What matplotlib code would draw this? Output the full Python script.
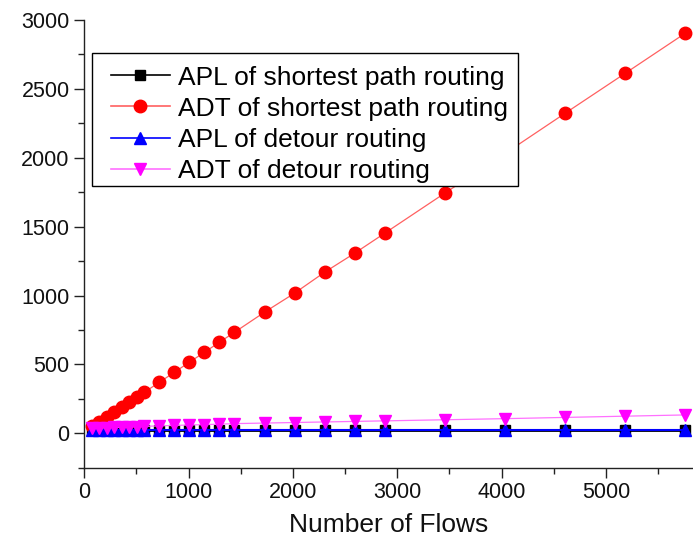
import matplotlib
matplotlib.use("Agg")
import matplotlib.pyplot as plt
from matplotlib.patches import Rectangle

plt.rcParams['font.family'] = ['Liberation Sans', 'DejaVu Sans']

flows = [72, 144, 216, 288, 360, 432, 504, 576, 720, 864, 1008, 1152, 1296, 1440,
         1728, 2016, 2304, 2592, 2880, 3456, 4032, 4608, 5184, 5760]
apl_shortest = [25, 25, 25, 25, 25, 25, 25, 25, 25, 25, 25, 25, 25, 25,
                25, 25, 25, 25, 25, 25, 25, 25, 25, 25]
adt_shortest = [50, 85, 120, 155, 192, 228, 262, 298, 370, 443, 516, 588, 661, 733,
                879, 1017, 1169, 1307, 1452, 1743, 2030, 2322, 2612, 2903]
apl_detour = [26, 26, 26, 26, 26, 26, 26, 26, 26, 26, 26, 26, 26, 26,
              26, 26, 26, 26, 26, 26, 26, 26, 26, 26]
adt_detour = [36, 38, 40, 42, 44, 46, 48, 50, 54, 57, 60, 63, 66, 70,
              74, 78, 82, 86, 90, 98, 106, 115, 124, 133]
labels = ["APL of shortest path routing", "ADT of shortest path routing",
          "APL of detour routing", "ADT of detour routing"]

W, H = 693, 541
fig = plt.figure(figsize=(W / 100, H / 100), dpi=100)
ax = fig.add_axes([84.3 / W, 1 - 467.7 / H, 1 - 84.3 / W, (467.7 - 20) / H])

ax.plot(flows, apl_shortest, color='black', lw=2, marker='s', ms=7.5, mec='black', label=labels[0])
ax.plot(flows, adt_shortest, color='#ff6060', lw=0.9, marker='o', ms=9, mfc='red', mec='red', label=labels[1])
ax.plot(flows, apl_detour, color='blue', lw=1.5, marker='^', ms=8.5, mfc='blue', mec='blue', label=labels[2])
ax.plot(flows, adt_detour, color='#ff70ff', lw=0.9, marker='v', ms=9, mfc='magenta', mec='magenta', label=labels[3])

ax.set_xlim(0, (W - 84.3) / 104.3 * 1000)
ax.set_ylim(-250, 3000)
ax.set_xticks([0, 1000, 2000, 3000, 4000, 5000])
ax.set_xticks([500, 1500, 2500, 3500, 4500, 5500], minor=True)
ax.set_yticks([0, 500, 1000, 1500, 2000, 2500, 3000])
ax.set_yticks([-250, 250, 750, 1250, 1750, 2250, 2750], minor=True)

for s in ['top', 'right']:
    ax.spines[s].set_visible(False)
for s in ['left', 'bottom']:
    ax.spines[s].set_linewidth(1.0)
    ax.spines[s].set_color('#222222')

ax.tick_params(which='major', direction='out', length=7, width=1, labelsize=15.5, pad=3.5, colors='#222222')
ax.tick_params(which='minor', direction='out', length=4, width=1, colors='#222222')
ax.tick_params(labelcolor='#111111')

ax.set_xlabel("Number of Flows", fontsize=19, color='#111111')
ax.xaxis.set_label_coords(0.5, (467.7 - 512.5) / 447.7)

# legend frame (opaque box) drawn above the data
frame = Rectangle((92 / W, 1 - 186 / H), (518 - 92) / W, (186 - 53) / H,
                  transform=fig.transFigure, facecolor='white', edgecolor='black',
                  linewidth=1.0, zorder=4, clip_on=False)
ax.add_patch(frame)

leg = ax.legend(loc='upper left', bbox_to_anchor=(111 / W, 1 - 65.5 / H),
                bbox_transform=fig.transFigure, fontsize=19, frameon=False,
                handlelength=2.23, handletextpad=0.3, borderpad=0,
                labelspacing=0.27, borderaxespad=0)
leg.set_zorder(5)
for line in leg.get_lines():
    line.set_linewidth(1.2)

fig.savefig("out.png", dpi=100)
